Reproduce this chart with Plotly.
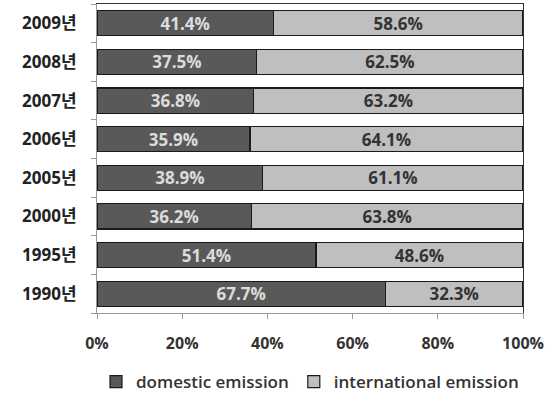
import plotly.graph_objects as go

years = ["1990년", "1995년", "2000년", "2005년", "2006년", "2007년", "2008년", "2009년"]
domestic = [67.7, 51.4, 36.2, 38.9, 35.9, 36.8, 37.5, 41.4]
international = [32.3, 48.6, 63.8, 61.1, 64.1, 63.2, 62.5, 58.6]
x_ticks = [0, 20, 40, 60, 80, 100]
x_tick_labels = ["0%", "20%", "40%", "60%", "80%", "100%"]

FONT = "'Open Sans', 'Noto Sans CJK KR', sans-serif"

fig = go.Figure()
fig.add_trace(go.Bar(
    y=years, x=domestic, orientation="h", name="domestic emission",
    marker=dict(color="#595959", line=dict(color="#1a1a1a", width=1.2)),
    text=[f"{v:.1f}%" for v in domestic], textposition="inside",
    insidetextanchor="middle", constraintext="none",
    textfont=dict(color="#dcdcdc", size=17, family=FONT, weight="bold"),
))
fig.add_trace(go.Bar(
    y=years, x=international, orientation="h", name="international emission",
    marker=dict(color="#bfbfbf", line=dict(color="#1a1a1a", width=1.2)),
    text=[f"{v:.1f}%" for v in international], textposition="inside",
    insidetextanchor="middle", constraintext="none",
    textfont=dict(color="#333333", size=17, family=FONT, weight="bold"),
))

fig.update_layout(
    barmode="stack", bargap=0.35,
    width=550, height=393,
    margin=dict(l=97, r=27, t=4, b=80, autoexpand=False),
    paper_bgcolor="white", plot_bgcolor="white",
    font=dict(family=FONT, size=15, color="#333333"),
    legend=dict(orientation="h", x=0.5, xanchor="center",
                yref="container", y=0.028, yanchor="middle",
                font=dict(size=17, color="#333333", weight=600),
                itemwidth=30, traceorder="normal"),
    xaxis=dict(range=[0, 100], tickvals=x_ticks, ticktext=x_tick_labels,
               showgrid=False, zeroline=False,
               showline=True, linecolor="#999999", linewidth=1,
               ticks="outside", ticklen=5, tickcolor="#999999",
               ticklabelstandoff=11,
               tickfont=dict(size=16, color="#333333", weight="bold"),
               fixedrange=True),
    yaxis=dict(showgrid=False, zeroline=False,
               showline=True, linecolor="#999999", linewidth=1,
               ticks="outside", ticklen=5, tickcolor="#999999", tickson="boundaries",
               ticklabelstandoff=16,
               tickfont=dict(size=17, color="#222222", weight="bold"),
               categoryorder="array", categoryarray=years,
               range=[-0.5, 7.5]),
    showlegend=True,
)
# plot-area frame on top and right
fig.update_layout(
    xaxis2=dict(overlaying="x", side="top", range=[0, 100], showline=True,
                linecolor="#333333", linewidth=1, showticklabels=False,
                showgrid=False, zeroline=False, ticks=""),
    yaxis2=dict(overlaying="y", side="right", showline=True,
                linecolor="#333333", linewidth=1, showticklabels=False,
                showgrid=False, zeroline=False, ticks="", range=[0, 1]),
)
fig.add_trace(go.Scatter(x=[None], y=[None], xaxis="x2", yaxis="y2",
                         showlegend=False, hoverinfo="skip"))

fig.write_html("out.html")
